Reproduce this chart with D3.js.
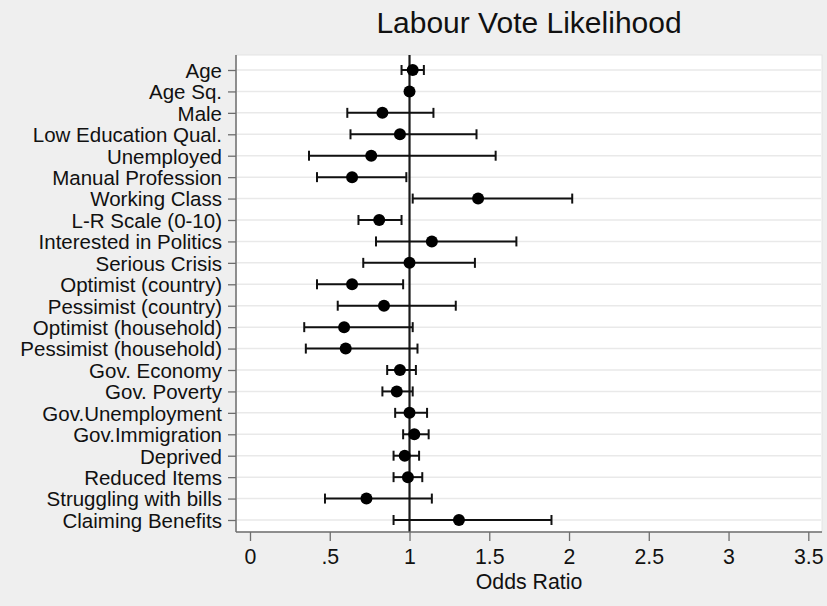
<!DOCTYPE html>
<html>
<head>
<meta charset="utf-8">
<script src="https://cdn.jsdelivr.net/npm/d3@7"></script>
<style>
  html, body { margin: 0; padding: 0; background: #efefef; }
  svg { display: block; font-family: "Liberation Sans", Arial, sans-serif; }
</style>
</head>
<body>
<svg id="chart" width="827" height="606"></svg>
<script>
// Predictors, top to bottom
const labels = [
  "Age", "Age Sq.", "Male", "Low Education Qual.", "Unemployed",
  "Manual Profession", "Working Class", "L-R Scale (0-10)",
  "Interested in Politics", "Serious Crisis", "Optimist (country)",
  "Pessimist (country)", "Optimist (household)", "Pessimist (household)",
  "Gov. Economy", "Gov. Poverty", "Gov.Unemployment", "Gov.Immigration",
  "Deprived", "Reduced Items", "Struggling with bills", "Claiming Benefits"
];
// Odds ratio point estimates
const oddsRatio = [
  1.02, 1.00, 0.83, 0.94, 0.76, 0.64, 1.43, 0.81, 1.14, 1.00, 0.64,
  0.84, 0.59, 0.60, 0.94, 0.92, 1.00, 1.03, 0.97, 0.99, 0.73, 1.31
];
// 95% confidence interval bounds
const ciLow = [
  0.95, 0.99, 0.61, 0.63, 0.37, 0.42, 1.02, 0.68, 0.79, 0.71, 0.42,
  0.55, 0.34, 0.35, 0.86, 0.83, 0.91, 0.96, 0.90, 0.90, 0.47, 0.90
];
const ciHigh = [
  1.09, 1.01, 1.15, 1.42, 1.54, 0.98, 2.02, 0.95, 1.67, 1.41, 0.96,
  1.29, 1.02, 1.05, 1.04, 1.02, 1.11, 1.12, 1.06, 1.08, 1.14, 1.89
];
const xTicks = [0, 0.5, 1, 1.5, 2, 2.5, 3, 3.5];

const rows = labels.map((name, i) => ({
  name, or: oddsRatio[i], lo: ciLow[i], hi: ciHigh[i]
}));

const svg = d3.select("#chart");
const plot = { left: 236, top: 55, right: 822, bottom: 532 };

const x = d3.scaleLinear().domain([0, 3.5]).range([250, 808.3]);
const y = d3.scalePoint().domain(labels).range([70, 520]);

// Plot background
svg.append("rect")
  .attr("x", plot.left).attr("y", plot.top)
  .attr("width", plot.right - plot.left).attr("height", plot.bottom - plot.top)
  .attr("fill", "#ffffff").attr("stroke", "#e4e4e4").attr("stroke-width", 1);

// Horizontal grid lines at each predictor
svg.append("g").selectAll("line").data(labels).join("line")
  .attr("x1", plot.left + 1).attr("x2", plot.right - 1)
  .attr("y1", d => y(d)).attr("y2", d => y(d))
  .attr("stroke", "#e9e9e9").attr("stroke-width", 1.5);

// Reference line at odds ratio 1
svg.append("line")
  .attr("x1", x(1)).attr("x2", x(1))
  .attr("y1", plot.top).attr("y2", plot.bottom)
  .attr("stroke", "#1a1a1a").attr("stroke-width", 2.2);

// Axes
const yAxis = svg.append("g")
  .attr("transform", `translate(${plot.left},0)`)
  .call(d3.axisLeft(y).tickSize(8).tickPadding(6));
yAxis.select(".domain").attr("d", `M0,${plot.top}V${plot.bottom}`);

const xAxis = svg.append("g")
  .attr("transform", `translate(0,${plot.bottom})`)
  .call(d3.axisBottom(x).tickValues(xTicks).tickSize(9).tickPadding(8)
    .tickFormat(d => d === 0 ? "0" : d3.format("")(d).replace(/^0\./, ".")));
xAxis.select(".domain").attr("d", `M${plot.left},0H${plot.right}`);

[yAxis, xAxis].forEach(g => {
  g.select(".domain").attr("stroke", "#6e6e6e").attr("stroke-width", 1.5);
  g.selectAll(".tick line").attr("stroke", "#6e6e6e").attr("stroke-width", 1.3);
  g.selectAll("text").attr("fill", "#111")
    .attr("font-family", "Liberation Sans, Arial, sans-serif");
});
yAxis.selectAll("text").attr("font-size", 20.5).attr("dy", "0.36em");
xAxis.selectAll("text").attr("font-size", 21.3);

// Confidence intervals
const bars = svg.append("g").attr("stroke", "#111").attr("stroke-width", 2);
bars.selectAll("line.ci").data(rows).join("line").attr("class", "ci")
  .attr("x1", d => x(d.lo)).attr("x2", d => x(d.hi))
  .attr("y1", d => y(d.name)).attr("y2", d => y(d.name));
bars.selectAll("line.capLo").data(rows).join("line").attr("class", "capLo")
  .attr("x1", d => x(d.lo)).attr("x2", d => x(d.lo))
  .attr("y1", d => y(d.name) - 5).attr("y2", d => y(d.name) + 5);
bars.selectAll("line.capHi").data(rows).join("line").attr("class", "capHi")
  .attr("x1", d => x(d.hi)).attr("x2", d => x(d.hi))
  .attr("y1", d => y(d.name) - 5).attr("y2", d => y(d.name) + 5);

// Point estimates
svg.append("g").selectAll("circle").data(rows).join("circle")
  .attr("cx", d => x(d.or)).attr("cy", d => y(d.name))
  .attr("r", 6).attr("fill", "#000");

// Title and axis title
svg.append("text")
  .attr("x", (plot.left + plot.right) / 2).attr("y", 33)
  .attr("text-anchor", "middle").attr("font-size", 30).attr("fill", "#111")
  .text("Labour Vote Likelihood");
svg.append("text")
  .attr("x", (plot.left + plot.right) / 2).attr("y", 589)
  .attr("text-anchor", "middle").attr("font-size", 21.3).attr("fill", "#111")
  .text("Odds Ratio");
</script>
</body>
</html>
